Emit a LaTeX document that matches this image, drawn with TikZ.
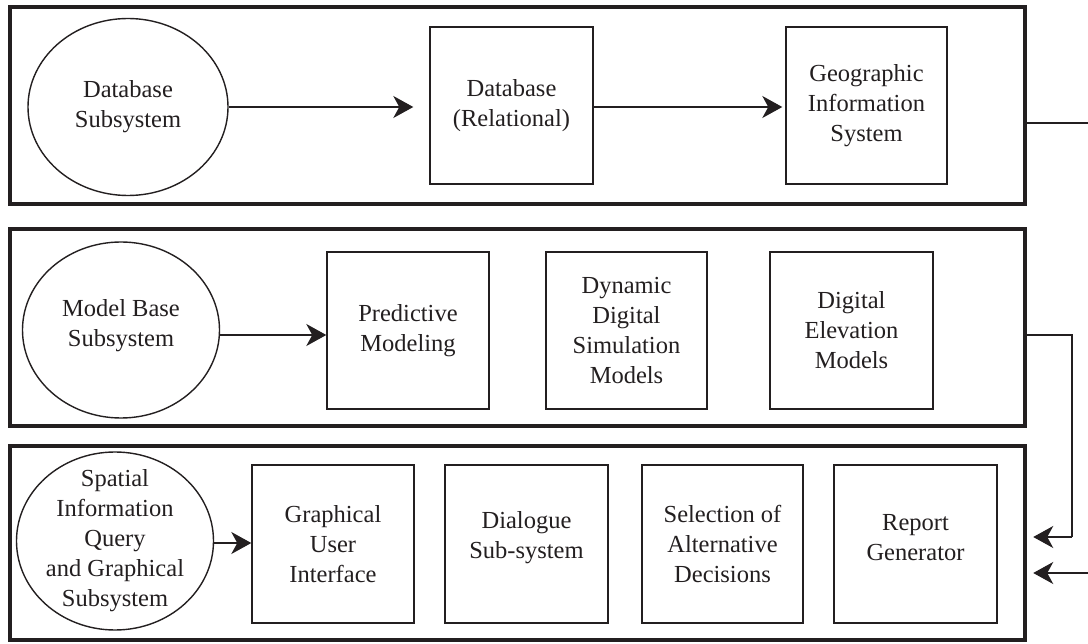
\documentclass[tikz,border=0pt]{standalone}
\usepackage{fontspec}
\setmainfont{Liberation Serif}
\usetikzlibrary{arrows.meta,shapes.geometric}
\newcommand\dtxt{\fontsize{24.5}{30}\selectfont}
\begin{document}
\begin{tikzpicture}[x=1pt,y=-1pt,
 ink/.style={draw={rgb,255:red,35;green,31;blue,32}},
 txt/.style={align=center, font=\dtxt, text={rgb,255:red,35;green,31;blue,32}, inner sep=0pt},
 panel/.style={ink, line width=4.5pt, inner sep=0pt},
 box/.style={ink, txt, line width=1.4pt},
 oval/.style={ink, txt, ellipse, line width=1.4pt},
 arr/.style={ink, line width=1.5pt, -{Stealth[length=20pt,width=22pt,inset=6pt]}},
 link/.style={ink, line width=1.1pt}]
\useasboundingbox (0,0) rectangle (1088,644);
\fill[white] (0,0) rectangle (1088,644);
% panels
\node[panel, minimum width=1015, minimum height=197] (P1) at (517.5,105.5) {};
\node[panel, minimum width=1015, minimum height=197] (P2) at (517.5,327.5) {};
\node[panel, minimum width=1015, minimum height=194] (P3) at (517.5,543) {};
% panel 1
\node[oval, minimum width=200, minimum height=177] (E1) at (128,107) {Database\\Subsystem};
\node[box, minimum width=163, minimum height=157] (B1) at (511.5,105.5) {Database\\(Relational)};
\node[box, minimum width=161, minimum height=157] (B2) at (866.5,105.5) {Geographic\\Information\\System};
% panel 2
\node[oval, minimum width=197, minimum height=176] (E2) at (121,330) {Model Base\\Subsystem\\[-16pt]\mbox{}};
\node[box, minimum width=162, minimum height=157] (M1) at (408,330.5) {Predictive\\Modeling};
\node[box, minimum width=161, minimum height=157] (M2) at (626.5,330.5) {Dynamic\\Digital\\Simulation\\Models};
\node[box, minimum width=163, minimum height=157] (M3) at (851.5,330.5) {Digital\\Elevation\\Models};
% panel 3
\node[oval, minimum width=197, minimum height=178,
      label={[txt]center:Spatial\\Information\\Query\\and Graphical\\Subsystem}] (E3) at (115,541) {};
\node[box, minimum width=162, minimum height=158] (G1) at (333,544) {Graphical\\User\\Interface};
\node[box, minimum width=163, minimum height=158] (G2) at (526.5,544) {Dialogue\\Sub-system\\[-12pt]\mbox{}};
\node[box, minimum width=161, minimum height=158] (G3) at (722.5,544) {Selection of\\Alternative\\Decisions};
\node[box, minimum width=163, minimum height=158] (G4) at (915.5,544) {Report\\Generator\\[-16pt]\mbox{}};
% arrows inside panels
\draw[arr, shorten >=16pt] (E1.east) -- (E1.east -| B1.west);
\draw[arr, shorten >=3pt] (B1.east |- 0,107) -- (B2.west |- 0,107);
\draw[arr] (E2.east |- 0,335) -- (M1.west |- 0,335);
\draw[arr] (E3.east |- 0,543) -- (G1.west |- 0,543);
% connectors on the right
\coordinate (out1) at (1088,123);
\coordinate (c2) at (1072,335);
\coordinate (in2) at (1072,537);
\coordinate (in3) at (1088,573);
\draw[link] (P1.east |- out1) -- (out1);
\draw[link, line width=2.5pt] (P1.east |- out1) -- ++(14,0);
\draw[link, line width=2.5pt] (P2.east |- c2) -- ++(14,0);
\draw[link] (P2.east |- c2) -- (c2) -- (in2);
\draw[arr, line width=1.3pt, shorten >=6pt] (in2) -- (P3.east |- in2);
\draw[arr, line width=1.3pt, shorten >=6pt] (in3) -- (P3.east |- in3);
\end{tikzpicture}
\end{document}
